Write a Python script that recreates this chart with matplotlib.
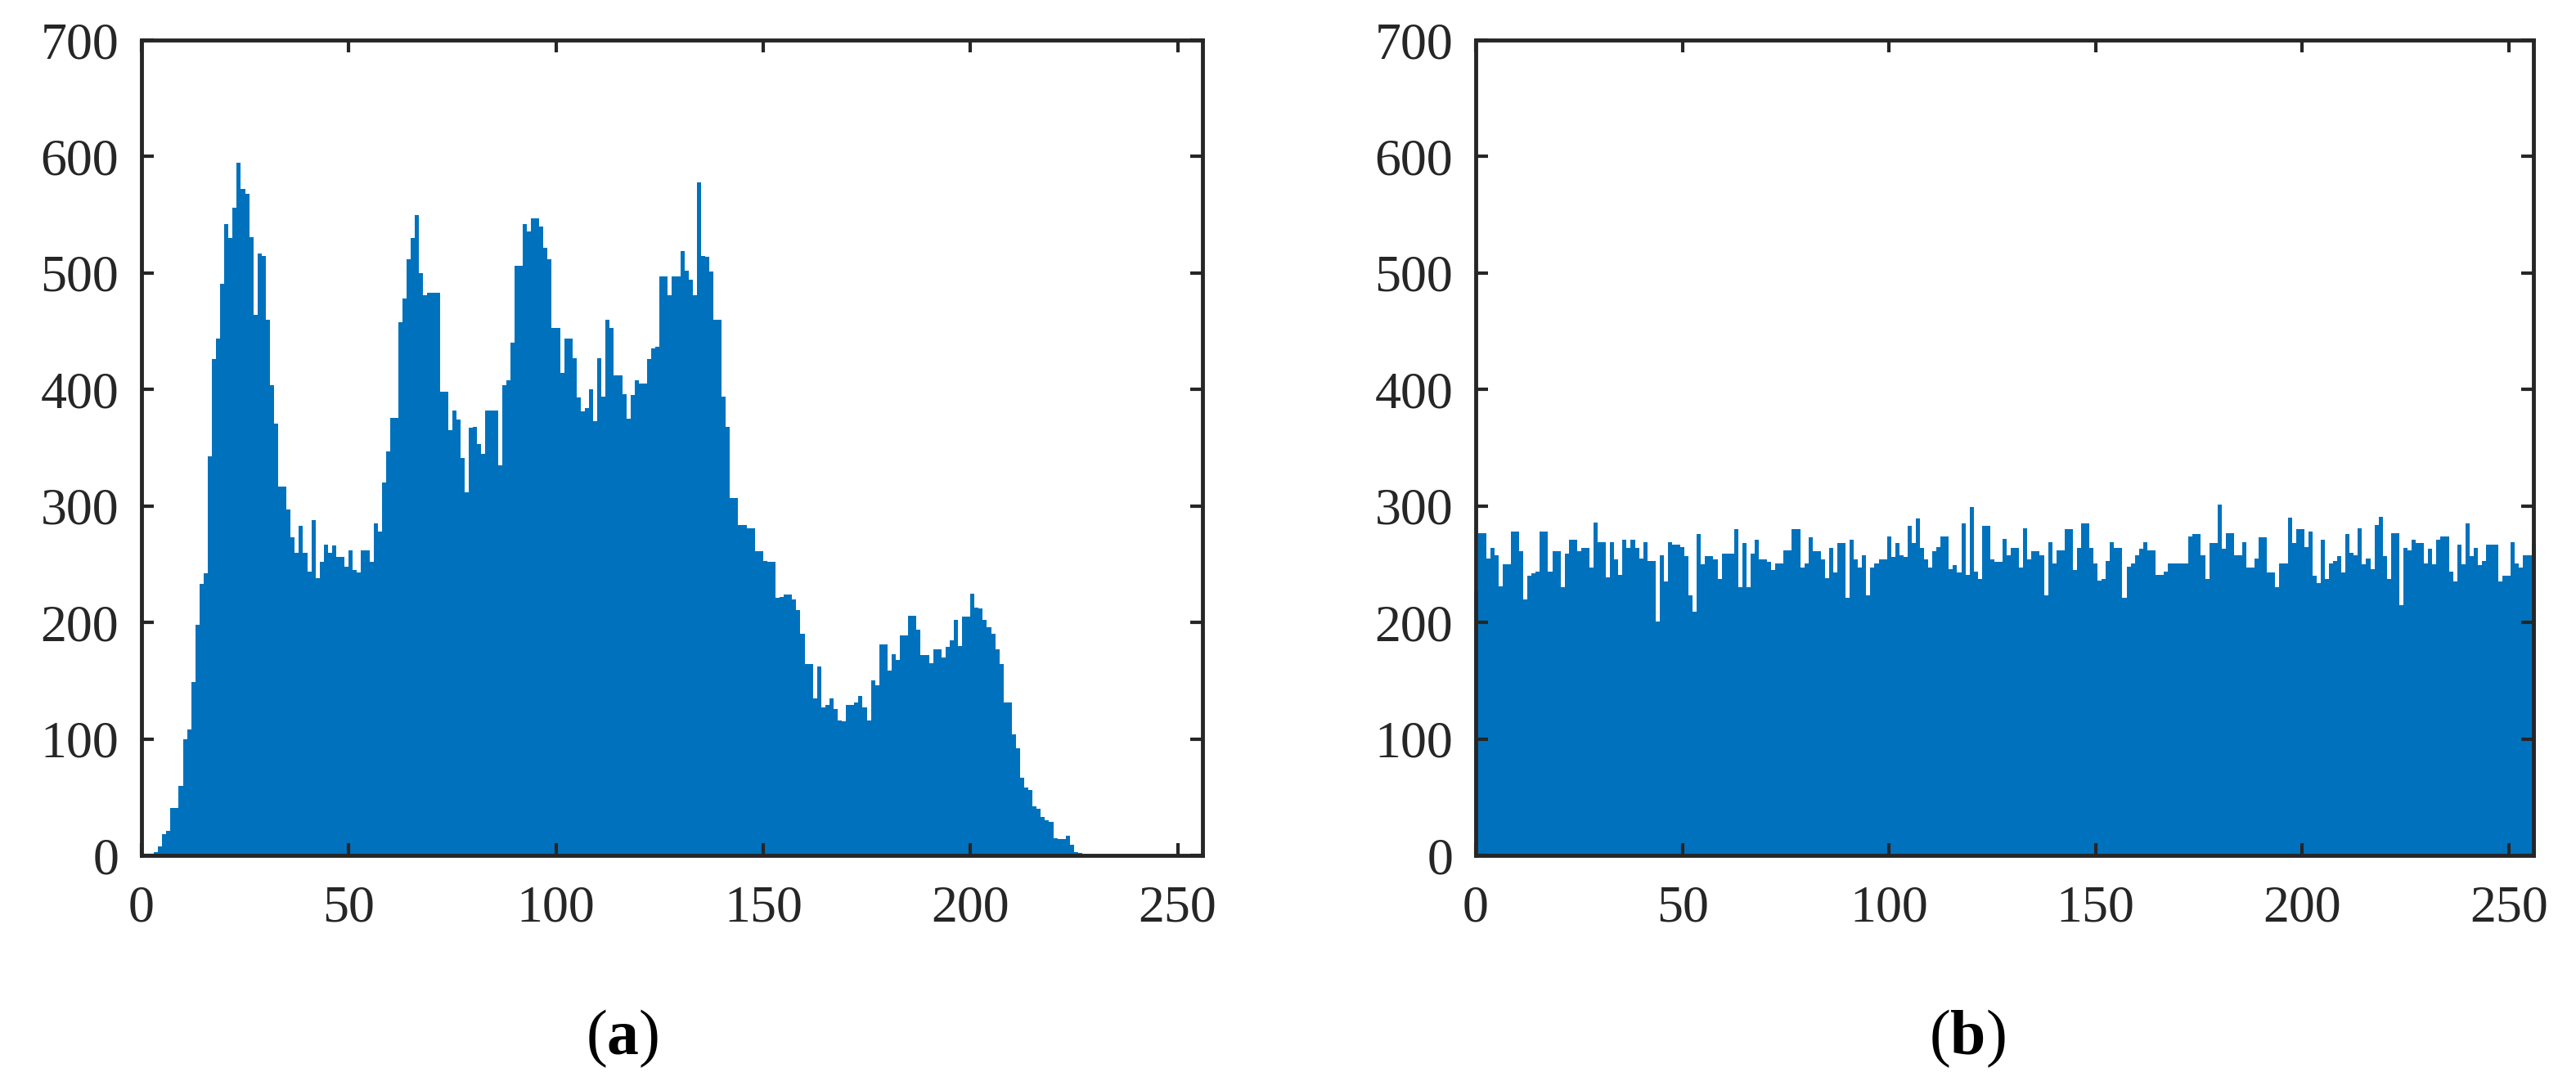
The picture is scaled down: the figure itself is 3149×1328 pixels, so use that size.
import numpy as np
import matplotlib.pyplot as plt

plt.rcParams['font.family'] = ['Liberation Serif', 'DejaVu Serif']
plt.rcParams['mathtext.fontset'] = 'custom'
plt.rcParams['mathtext.rm'] = 'Liberation Serif'
plt.rcParams['mathtext.bf'] = 'Liberation Serif:bold'

# histogram of the plain image, gray levels 0..255
plain_counts = [
    0, 0, 1, 3, 8, 18, 21, 41, 41, 60,
    100, 108, 149, 198, 233, 242, 343, 426, 444, 491,
    542, 530, 556, 595, 572, 568, 531, 464, 517, 515,
    460, 404, 371, 317, 317, 297, 273, 260, 283, 260,
    244, 288, 238, 252, 267, 260, 266, 256, 256, 248,
    262, 245, 243, 262, 262, 252, 285, 278, 320, 347,
    376, 376, 458, 478, 512, 530, 550, 500, 481, 483,
    483, 483, 398, 398, 365, 382, 374, 341, 312, 367,
    368, 353, 345, 382, 382, 382, 335, 404, 408, 440,
    506, 506, 542, 536, 547, 547, 540, 522, 512, 453,
    453, 414, 444, 444, 427, 393, 381, 384, 400, 373,
    427, 394, 460, 453, 412, 412, 396, 375, 395, 408,
    405, 405, 426, 435, 437, 497, 497, 481, 497, 497,
    519, 502, 494, 481, 578, 515, 514, 501, 460, 460,
    394, 368, 307, 307, 284, 284, 281, 281, 261, 261,
    253, 252, 252, 221, 222, 224, 224, 220, 211, 190,
    164, 164, 135, 162, 127, 129, 135, 126, 116, 115,
    129, 129, 131, 137, 127, 116, 150, 146, 181, 181,
    159, 173, 168, 189, 189, 206, 206, 194, 172, 172,
    165, 177, 177, 170, 179, 185, 202, 180, 205, 205,
    225, 213, 212, 202, 196, 190, 177, 164, 131, 131,
    104, 92, 67, 58, 56, 42, 40, 33, 30, 29,
    15, 14, 14, 17, 9, 3, 2, 1, 1, 1,
    1, 1, 0, 0, 0, 0, 0, 1, 1, 0,
    0, 0, 0, 0, 0, 0, 0, 0, 0, 0,
    0, 0, 0, 0, 0, 0,
]

# histogram of the encrypted image
cipher_counts = [
    227, 277, 277, 255, 264, 258, 231, 250, 250, 278,
    278, 261, 220, 240, 242, 244, 278, 278, 244, 261,
    261, 230, 259, 271, 271, 261, 264, 264, 247, 286,
    269, 269, 239, 269, 254, 241, 271, 264, 271, 264,
    255, 269, 253, 253, 201, 258, 235, 269, 267, 267,
    265, 257, 223, 209, 276, 250, 257, 257, 254, 237,
    259, 259, 259, 280, 230, 268, 230, 259, 271, 254,
    254, 252, 245, 251, 251, 262, 262, 280, 280, 247,
    251, 273, 261, 261, 254, 238, 264, 243, 268, 268,
    221, 271, 254, 247, 258, 223, 247, 251, 254, 254,
    274, 256, 268, 258, 256, 283, 268, 289, 264, 254,
    247, 261, 265, 274, 274, 246, 249, 243, 285, 241,
    299, 244, 237, 283, 283, 254, 252, 252, 272, 258,
    264, 264, 247, 281, 254, 261, 261, 258, 223, 269,
    251, 262, 262, 280, 280, 245, 264, 285, 285, 264,
    251, 236, 237, 253, 269, 264, 264, 221, 248, 251,
    258, 263, 269, 262, 262, 241, 241, 244, 251, 251,
    251, 251, 251, 274, 276, 276, 258, 237, 268, 268,
    301, 263, 277, 277, 258, 258, 269, 247, 247, 255,
    273, 273, 243, 243, 230, 251, 251, 290, 268, 280,
    280, 265, 278, 240, 234, 271, 237, 251, 253, 257,
    243, 276, 260, 258, 281, 250, 255, 246, 284, 291,
    257, 237, 277, 277, 215, 264, 262, 271, 268, 268,
    251, 263, 250, 271, 274, 274, 244, 235, 267, 250,
    285, 257, 264, 249, 253, 267, 267, 267, 235, 240,
    240, 269, 251, 247, 258, 258, 267,
]

x_ticks = [0, 50, 100, 150, 200, 250]
y_ticks = [0, 100, 200, 300, 400, 500, 600, 700]
panel_labels = [r'($\mathbf{a}$)', r'($\mathbf{b}$)']

bar_color = '#0072BD'
ink = '#262626'

fig = plt.figure(figsize=(31.49, 13.28), dpi=100)
ax1 = fig.add_axes([0.0549, 0.2123, 0.4119, 0.7508])
ax2 = fig.add_axes([0.5729, 0.2123, 0.4106, 0.7508])

plain_edges = np.arange(len(plain_counts) + 1)
ax1.stairs(plain_counts, plain_edges, fill=True, color=bar_color, linewidth=0)

cipher_edges = np.arange(len(cipher_counts) + 1) - 0.5
ax2.stairs(cipher_counts, cipher_edges, fill=True, color=bar_color,
           linewidth=0, clip_on=False)

for ax in (ax1, ax2):
    ax.set_xlim(0, 256)
    ax.set_ylim(0, 700)
    ax.set_xticks(x_ticks)
    ax.set_yticks(y_ticks)
    ax.tick_params(direction='in', top=True, right=True, length=11, width=3,
                   labelsize=46, color=ink, labelcolor=ink)
    ax.tick_params(axis='x', pad=26)
    ax.tick_params(axis='y', pad=20)
    for s in ax.spines.values():
        s.set_linewidth(3.5)
        s.set_color(ink)
        s.set_zorder(3)

fig.text(761 / 3149, 1 - 1270 / 1328, panel_labels[0], ha='center', va='center',
         fontsize=56, color='black')
fig.text(2405 / 3149, 1 - 1270 / 1328, panel_labels[1], ha='center', va='center',
         fontsize=56, color='black')

fig.savefig('out.png', dpi=100)
